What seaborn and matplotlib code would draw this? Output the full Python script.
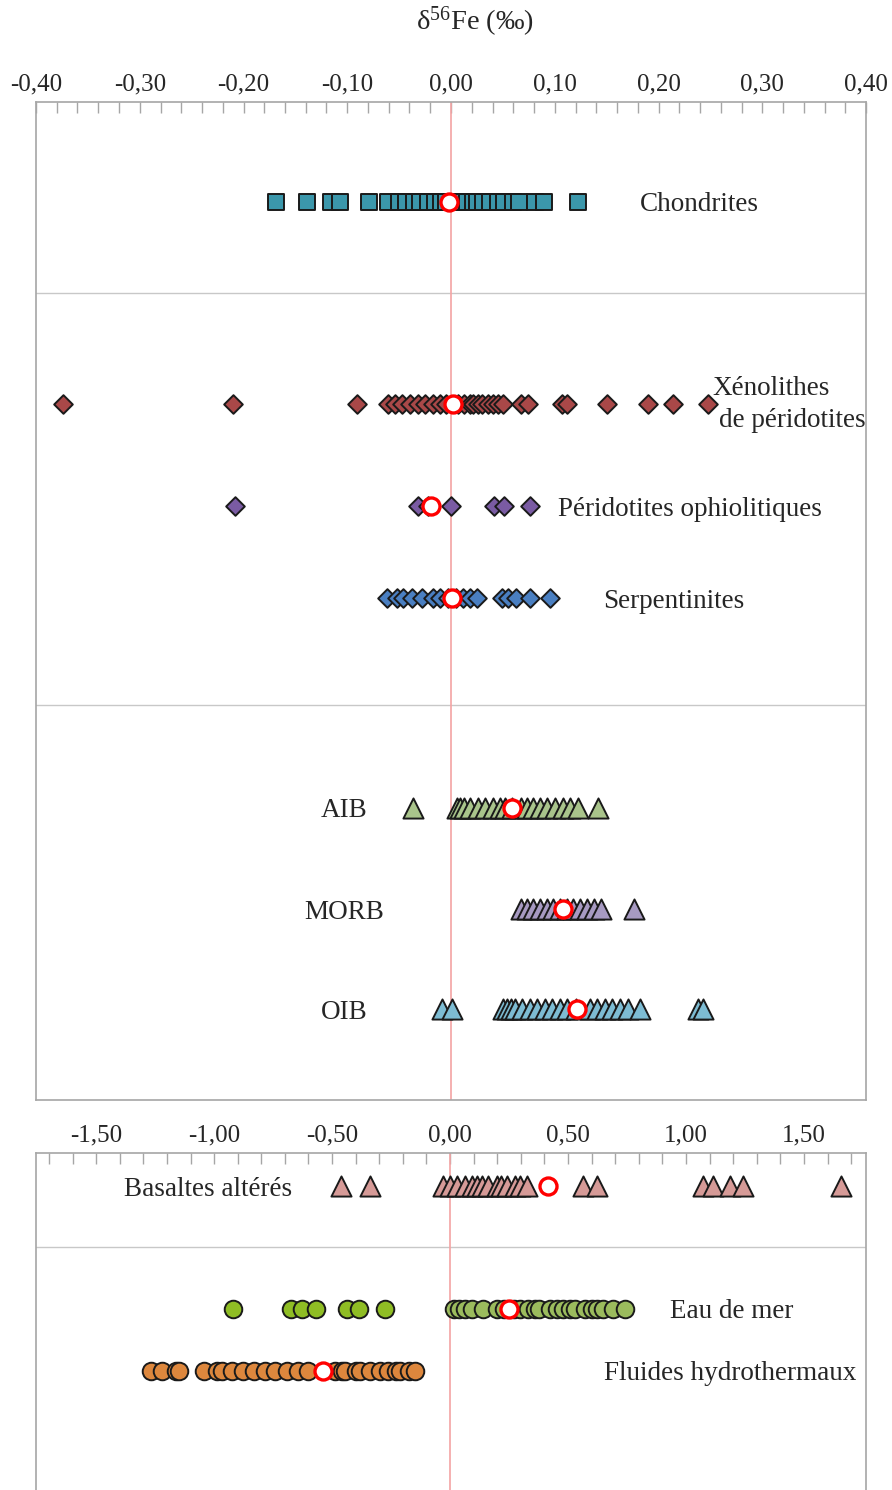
"""
Fe isotope composition (d56Fe) of terrestrial and extraterrestrial reservoirs.
Two stacked panels sharing the 0 line, Excel-like styling.
"""
import matplotlib
matplotlib.use("Agg")
import matplotlib.pyplot as plt
import seaborn as sns
from matplotlib.ticker import FuncFormatter, MultipleLocator

# ---- data (delta56Fe, permil) ----
chondrites = [-0.169, -0.139, -0.116, -0.107, -0.079, -0.061, -0.050, -0.043,
              -0.036, -0.030, -0.022, -0.015, -0.010, -0.005, 0.004, 0.010,
              0.015, 0.021, 0.025, 0.031, 0.038, 0.045, 0.051, 0.060, 0.066,
              0.081, 0.090, 0.122]
xenolithes = [-0.374, -0.210, -0.091, -0.061, -0.054, -0.047, -0.040, -0.032,
              -0.025, -0.017, -0.011, -0.005, 0.007, 0.013, 0.018, 0.021,
              0.026, 0.030, 0.036, 0.040, 0.045, 0.050, 0.067, 0.074, 0.107,
              0.112, 0.150, 0.190, 0.214, 0.248]
ophiolites = [-0.208, -0.032, -0.022, 0.000, 0.041, 0.051, 0.076]
serpentinites = [-0.062, -0.052, -0.046, -0.038, -0.028, -0.017, -0.011,
                 -0.003, 0.005, 0.012, 0.018, 0.025, 0.049, 0.055, 0.063,
                 0.076, 0.095]
aib = [-0.037, 0.006, 0.009, 0.013, 0.018, 0.026, 0.033, 0.040, 0.047, 0.052,
       0.059, 0.067, 0.073, 0.079, 0.086, 0.093, 0.100, 0.108, 0.115, 0.122,
       0.142]
morb = [0.067, 0.073, 0.079, 0.086, 0.093, 0.098, 0.105, 0.112, 0.118, 0.124,
        0.131, 0.138, 0.145, 0.176]
oib = [-0.009, 0.001, 0.050, 0.054, 0.058, 0.062, 0.068, 0.076, 0.083, 0.091,
       0.097, 0.105, 0.112, 0.120, 0.134, 0.141, 0.148, 0.155, 0.163, 0.171,
       0.182, 0.238, 0.243]

basaltes = [-0.462, -0.339, -0.031, 0.000, 0.028, 0.064, 0.092, 0.113, 0.136,
            0.162, 0.198, 0.216, 0.240, 0.275, 0.297, 0.325, 0.562, 0.622,
            1.073, 1.116, 1.186, 1.243, 1.656]
eau_mer_neg = [-0.922, -0.675, -0.628, -0.569, -0.438, -0.388, -0.275]
eau_mer_pos = [0.017, 0.040, 0.064, 0.092, 0.141, 0.198, 0.230, 0.270, 0.297,
               0.330, 0.360, 0.375, 0.424, 0.455, 0.480, 0.510, 0.530, 0.572,
               0.600, 0.622, 0.650, 0.692, 0.742]
fluides = [-1.268, -1.219, -1.163, -1.147, -1.045, -0.986, -0.968, -0.925,
           -0.876, -0.833, -0.784, -0.742, -0.692, -0.643, -0.600, -0.487,
           -0.460, -0.445, -0.400, -0.381, -0.339, -0.297, -0.261, -0.230,
           -0.212, -0.175, -0.148]

# mean values (open red circles)
means_top = {"Chondrites": -0.002, "Xenolithes": 0.002, "Ophiolites": -0.019,
             "Serpentinites": 0.001, "AIB": 0.059, "MORB": 0.108, "OIB": 0.121}
means_bottom = {"Basaltes": 0.417, "Eau": 0.250, "Fluides": -0.537}

# ---- styling ----
sns.set_theme(style="white")
plt.rcParams["font.family"] = ["Liberation Serif", "DejaVu Serif"]
plt.rcParams["mathtext.fontset"] = "custom"
plt.rcParams["mathtext.rm"] = "Liberation Serif"
plt.rcParams["mathtext.it"] = "Liberation Serif:italic"

EDGE = "#1a1a1a"
SPINE = "#a6a6a6"
GRID = "#c8c8c8"
ZERO = "#f4a3a3"
LABEL_SIZE = 19.5
TICK_SIZE = 18
VA = "center_baseline"


def comma_fmt(v, pos):
    return f"{v:.2f}".replace(".", ",").replace("-0,00", "0,00")


def strip(ax, values, y, marker, color, size):
    sns.scatterplot(x=values, y=[y] * len(values), ax=ax, marker=marker,
                    color=color, s=size, edgecolor=EDGE, linewidth=1.4,
                    zorder=3, legend=False)


def mean_point(ax, value, y):
    sns.scatterplot(x=[value], y=[y], ax=ax, marker="o", color="white",
                    s=150, edgecolor="#ff0000", linewidth=2.4, zorder=5,
                    legend=False)


def style_axis(ax, xlim, major, minor):
    ax.set_xlim(*xlim)
    ax.xaxis.set_major_locator(MultipleLocator(major))
    ax.xaxis.set_minor_locator(MultipleLocator(minor))
    ax.xaxis.set_major_formatter(FuncFormatter(comma_fmt))
    ax.xaxis.tick_top()
    ax.tick_params(axis="x", which="both", direction="in", length=8,
                   width=1, color=SPINE, top=True, bottom=False,
                   labeltop=True, labelbottom=False, labelsize=TICK_SIZE,
                   pad=5)
    ax.set_yticks([])
    ax.set_xlabel("")
    ax.set_ylabel("")
    for sp in ax.spines.values():
        sp.set_color(SPINE)
        sp.set_linewidth(1.2)
    ax.axvline(0, color=ZERO, lw=1.2, zorder=1)


fig = plt.figure(figsize=(8.92, 14.90), dpi=100)
ax_top = fig.add_axes([36 / 892, 1 - 1100 / 1490, 830 / 892, 998 / 1490])
ax_bot = fig.add_axes([36 / 892, 0.0, 830 / 892, 337 / 1490])

# ---- top panel ----
rows_top = {"Chondrites": 1.0, "Xenolithes": 3.03, "Ophiolites": 4.05,
            "Serpentinites": 4.97, "AIB": 7.07, "MORB": 8.09, "OIB": 9.09}
strip(ax_top, chondrites, rows_top["Chondrites"], "s", "#3b97ab", 140)
strip(ax_top, xenolithes, rows_top["Xenolithes"], "D", "#a94848", 90)
strip(ax_top, ophiolites, rows_top["Ophiolites"], "D", "#7a5ba3", 90)
strip(ax_top, serpentinites, rows_top["Serpentinites"], "D", "#4a7fc1", 90)
strip(ax_top, aib, rows_top["AIB"], "^", "#a9c48b", 210)
strip(ax_top, morb, rows_top["MORB"], "^", "#a79ac2", 210)
strip(ax_top, oib, rows_top["OIB"], "^", "#7dbcd3", 210)
for key, val in means_top.items():
    mean_point(ax_top, val, rows_top[key])

for yd in (1.91, 6.04):
    ax_top.axhline(yd, color=GRID, lw=1, zorder=0)
ax_top.set_ylim(10.0, 0.0)
style_axis(ax_top, (-0.40, 0.40), 0.10, 0.02)
fig.text(475 / 892, 1 - 22 / 1490, r"δ$^{56}$Fe (‰)", fontsize=20.5,
         ha="center", va="center")

ax_top.text(0.182, rows_top["Chondrites"], "Chondrites", fontsize=LABEL_SIZE,
            va=VA, ha="left")
ax_top.text(0.252, 2.84, "Xénolithes", fontsize=LABEL_SIZE, va=VA,
            ha="left")
ax_top.text(0.258, 3.16, "de péridotites", fontsize=LABEL_SIZE, va=VA,
            ha="left")
ax_top.text(0.103, rows_top["Ophiolites"], "Péridotites ophiolitiques",
            fontsize=LABEL_SIZE, va=VA, ha="left")
ax_top.text(0.147, rows_top["Serpentinites"], "Serpentinites",
            fontsize=LABEL_SIZE, va=VA, ha="left")
for key, txt in (("AIB", "AIB"), ("MORB", "MORB"), ("OIB", "OIB")):
    ax_top.text(-0.103, rows_top[key], txt, fontsize=LABEL_SIZE,
                va=VA, ha="center")

# ---- bottom panel ----
rows_bot = {"Basaltes": 0.33, "Eau": 1.56, "Fluides": 2.18}
strip(ax_bot, basaltes, rows_bot["Basaltes"], "^", "#d69a97", 210)
strip(ax_bot, eau_mer_neg, rows_bot["Eau"], "o", "#8fbd24", 160)
strip(ax_bot, eau_mer_pos, rows_bot["Eau"], "o", "#9bbb5d", 160)
strip(ax_bot, fluides, rows_bot["Fluides"], "o", "#dd873d", 160)
for key, val in means_bottom.items():
    mean_point(ax_bot, val, rows_bot[key])

ax_bot.axhline(0.94, color=GRID, lw=1, zorder=0)
ax_bot.set_ylim(3.37, 0.0)
style_axis(ax_bot, (-1.755, 1.763), 0.50, 0.10)
ax_bot.spines["bottom"].set_visible(False)

ax_bot.text(-0.669, rows_bot["Basaltes"], "Basaltes altérés",
            fontsize=LABEL_SIZE, va=VA, ha="right")
ax_bot.text(0.932, rows_bot["Eau"], "Eau de mer", fontsize=LABEL_SIZE,
            va=VA, ha="left")
ax_bot.text(0.653, rows_bot["Fluides"], "Fluides hydrothermaux",
            fontsize=LABEL_SIZE, va=VA, ha="left")

fig.savefig("out.png", dpi=100)
plt.close(fig)
